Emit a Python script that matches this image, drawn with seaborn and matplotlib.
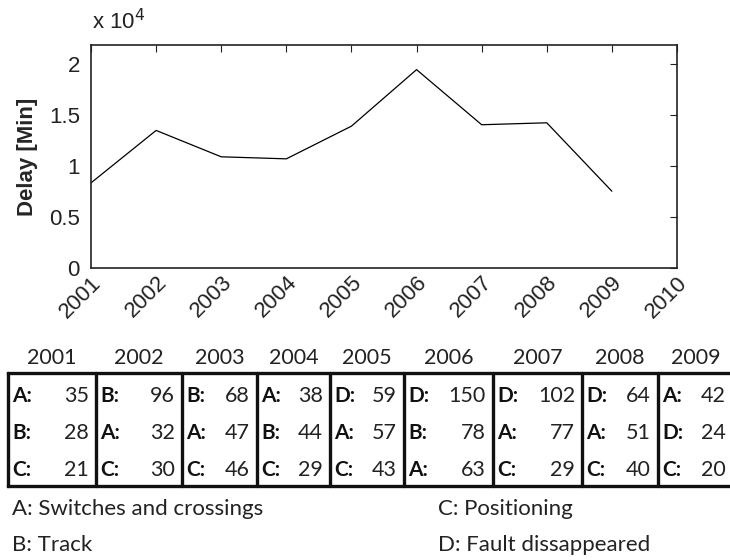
import matplotlib
matplotlib.use("Agg")
import matplotlib.pyplot as plt
import matplotlib.ticker as mticker
import seaborn as sns
import pandas as pd

# ---- data ----
years = [2001, 2002, 2003, 2004, 2005, 2006, 2007, 2008, 2009]
delay_min = [8360, 13510, 10920, 10720, 13930, 19480, 14070, 14260, 7540]

tbl_years = ["2001", "2002", "2003", "2004", "2005", "2006", "2007", "2008", "2009"]
row1_cat = ["A", "B", "B", "A", "D", "D", "D", "D", "A"]
row1_val = [35, 96, 68, 38, 59, 150, 102, 64, 42]
row2_cat = ["B", "A", "A", "B", "A", "B", "A", "A", "D"]
row2_val = [28, 32, 47, 44, 57, 78, 77, 51, 24]
row3_cat = ["C", "C", "C", "C", "C", "A", "C", "C", "C"]
row3_val = [21, 30, 46, 29, 43, 63, 29, 40, 20]

legend_items = ["A: Switches and crossings", "B: Track", "C: Positioning", "D: Fault dissappeared"]

# ---- layout (pixels) ----
W, H = 730, 560
col_edges = [8, 96, 182, 257, 330, 404, 493, 582, 658, 733]

sns.set_theme(style="white")
plt.rcParams["font.family"] = ["Liberation Sans", "DejaVu Sans"]

fig = plt.figure(figsize=(W / 100, H / 100), dpi=100)
ax = fig.add_axes([91 / W, 1 - 268 / H, (677 - 91) / W, (268 - 45) / H])

df = pd.DataFrame({"year": years, "delay": delay_min})
sns.lineplot(data=df, x="year", y="delay", ax=ax, color="black", linewidth=0.9)

ax.set_xlim(2001, 2010)
ax.set_ylim(0, 21900)
ax.set_xticks(list(range(2001, 2011)))
ax.set_yticks([0, 5000, 10000, 15000, 20000])
ax.yaxis.set_major_formatter(mticker.FuncFormatter(lambda v, p: "%g" % (v / 1e4)))
ax.tick_params(direction="in", length=5, width=0.8, top=True, right=True,
               labelsize=16, colors="#222222")
ax.tick_params(axis="y", pad=8)
ax.tick_params(axis="x", pad=3)
for lbl in ax.get_xticklabels():
    lbl.set_rotation(45)
    lbl.set_ha("right")
    lbl.set_rotation_mode("anchor")
for s in ax.spines.values():
    s.set_color("#222222")
    s.set_linewidth(1.2)
ax.set_xlabel("")
ax.set_ylabel("Delay [Min]", fontsize=16, fontweight="bold", labelpad=8)
ax.text(0.002, 1.05, r"x 10$^4$", transform=ax.transAxes, fontsize=16,
        ha="left", va="bottom", color="#222222")

# ---- table ----
tfont = ["Lato", "DejaVu Sans"]
tax = fig.add_axes([0, 0, 1, 1])
tax.set_xlim(0, W)
tax.set_ylim(H, 0)
tax.axis("off")

top, bot = 373, 485.5
rows_y = [396, 433, 470]
tax.plot([col_edges[0], col_edges[-1]], [top, top], color="#111111", lw=2.4, solid_capstyle="projecting")
tax.plot([col_edges[0], col_edges[-1]], [bot, bot], color="#111111", lw=2.4, solid_capstyle="projecting")
for e in col_edges:
    tax.plot([e, e], [top, bot], color="#111111", lw=2.4)

rows = [(row1_cat, row1_val), (row2_cat, row2_val), (row3_cat, row3_val)]
for i, yr in enumerate(tbl_years):
    l, r = col_edges[i], col_edges[i + 1]
    tax.text((l + r) / 2, 358, yr, ha="center", va="center", fontsize=15.5, family=tfont,
             color="#222222")
    for (cats, vals), y in zip(rows, rows_y):
        tax.text(l + 4, y, cats[i] + ":", ha="left", va="center", fontsize=15,
                 fontweight="bold", family=tfont, color="#111111")
        tax.text(r - 7, y, str(vals[i]), ha="right", va="center", fontsize=15.5,
                 family=tfont, color="#222222")

leg_pos = [(12, 509), (12, 545), (438, 509), (438, 545)]
for txt, (x, y) in zip(legend_items, leg_pos):
    tax.text(x, y, txt, ha="left", va="center", fontsize=16, family=tfont, color="#222222")

fig.savefig("out.png", dpi=100)
